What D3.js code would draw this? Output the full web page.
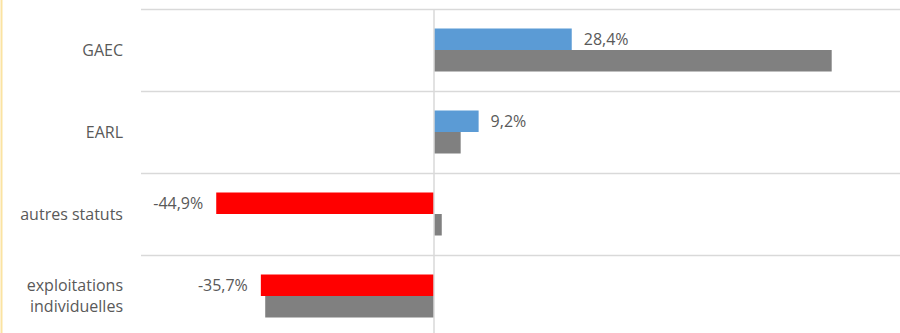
<!DOCTYPE html>
<html><head><meta charset="utf-8">
<script src="https://cdn.jsdelivr.net/npm/d3@7"></script>
<style>html,body{margin:0;padding:0;background:#fff;overflow:hidden}svg{display:block}</style>
</head><body>
<svg id="c" width="900" height="333"></svg>
<script>
const categories = [["GAEC"], ["EARL"], ["autres statuts"], ["exploitations", "individuelles"]];
const seriesMain = [28.4, 9.2, -44.9, -35.7];
const seriesRef = [82.0, 5.5, 1.6, -34.8];
const labels = ["28,4%", "9,2%", "-44,9%", "-35,7%"];
const xDomain = [-60, 100];

const svg = d3.select("#c");
const font = "'Open Sans', sans-serif";
const txt = "#595959";

const x = d3.scaleLinear().domain(xDomain).range([143, 919]);
const y = d3.scaleBand().domain(d3.range(categories.length)).range([9, 337]).paddingInner(0).paddingOuter(0);
const barPad = 19.5;
const barH = (y.bandwidth() - 2 * barPad) / 2;

// left border
svg.append("line").attr("x1", 1.5).attr("x2", 1.5).attr("y1", 0).attr("y2", 333)
  .attr("stroke", "#FBE3A2").attr("stroke-width", 2);

// horizontal gridlines at band edges
const edges = categories.map((d, i) => y(i));
svg.append("g").selectAll("line").data(edges).join("line")
  .attr("x1", 141).attr("x2", 900).attr("y1", d => Math.round(d) + 0.5).attr("y2", d => Math.round(d) + 0.5)
  .attr("stroke", "#D9D9D9").attr("stroke-width", 1.5);

// bars
const g = svg.append("g");
g.selectAll("rect.main").data(seriesMain).join("rect").attr("class", "main")
  .attr("x", d => x(Math.min(0, d))).attr("width", d => Math.abs(x(d) - x(0)))
  .attr("y", (d, i) => y(i) + barPad).attr("height", barH)
  .attr("fill", d => d >= 0 ? "#5B9BD5" : "#FF0000");
g.selectAll("rect.ref").data(seriesRef).join("rect").attr("class", "ref")
  .attr("x", d => x(Math.min(0, d))).attr("width", d => Math.abs(x(d) - x(0)))
  .attr("y", (d, i) => y(i) + barPad + barH).attr("height", barH)
  .attr("fill", "#808080");

// zero axis line
svg.append("line").attr("x1", x(0)).attr("x2", x(0)).attr("y1", 9).attr("y2", 333)
  .attr("stroke", "#D9D9D9").attr("stroke-width", 1.5);

// data labels
g.selectAll("text.lab").data(seriesMain).join("text").attr("class", "lab")
  .attr("x", d => d >= 0 ? x(d) + 12 : x(d) - 13)
  .attr("y", (d, i) => y(i) + barPad + barH / 2)
  .attr("dy", "0.35em")
  .attr("text-anchor", d => d >= 0 ? "start" : "end")
  .attr("font-family", font).attr("font-size", 16).attr("fill", txt)
  .text((d, i) => labels[i]);

// category labels
const cl = svg.append("g");
categories.forEach((lines, i) => {
  const cy = y(i) + y.bandwidth() / 2;
  const lh = 21.5;
  const t = cl.append("text").attr("text-anchor", "end")
    .attr("font-family", font).attr("font-size", 16).attr("fill", txt);
  lines.forEach((ln, j) => {
    t.append("tspan").attr("x", 123)
      .attr("y", cy + (j - (lines.length - 1) / 2) * lh).attr("dy", "0.35em").text(ln);
  });
});
</script>
</body></html>
